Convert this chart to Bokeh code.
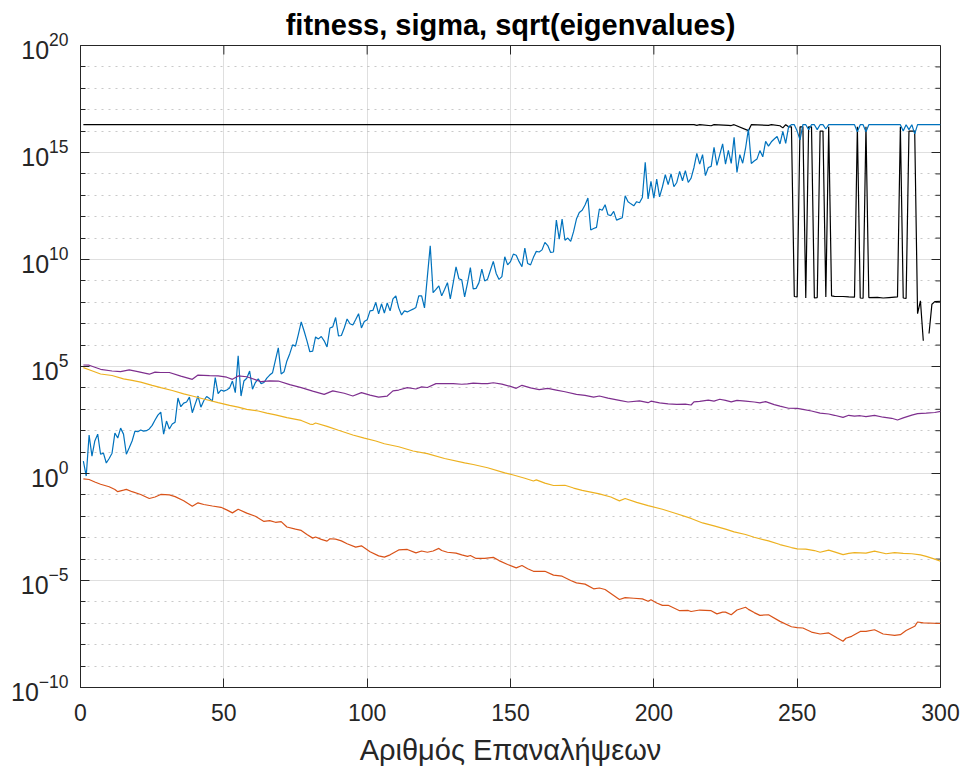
import numpy as np
from bokeh.plotting import figure
from bokeh.models import FixedTicker, LogTickFormatter, Range1d
from bokeh.embed import file_html
from bokeh.resources import INLINE

# ---- data (values stored as base-10 exponents) ----
iterations = list(range(1, 301))

fitness_exp = [
    0.58, -0.12, 1.8, 0.81, 1.52, 1.84, 0.9, 0.95, 0.49, 0.7,
    0.95, 1.89, 1.66, 2.12, 1.84, 0.9, 1.2, 1.52, 1.98, 1.95,
    2.03, 1.98, 2.0, 2.08, 2.25, 2.5, 2.73, 2.87, 1.84, 2.45,
    2.08, 2.31, 2.4, 3.53, 3.12, 3.29, 3.34, 3.57, 2.84, 3.24,
    3.62, 3.1, 3.4, 3.6, 3.5, 3.39, 4.48, 3.73, 3.9, 3.85,
    3.9, 4.0, 4.32, 3.78, 5.5, 3.62, 4.32, 4.45, 4.79, 3.94,
    4.25, 4.42, 4.2, 4.25, 4.46, 4.6, 4.71, 5.3, 5.87, 4.65,
    4.75, 5.26, 5.6, 6.01, 5.95, 6.5, 7.08, 6.66, 6.2, 5.69,
    5.72, 6.38, 6.29, 6.4, 6.2, 5.91, 6.8, 6.85, 7.29, 6.43,
    6.45, 6.8, 7.22, 7.0, 6.94, 7.2, 7.47, 6.8, 7.1, 7.18,
    7.6, 7.62, 7.99, 7.46, 7.93, 7.5, 7.97, 7.6, 8.16, 8.3,
    7.74, 7.41, 7.6, 7.55, 7.62, 7.68, 7.76, 8.3, 8.3, 7.74,
    9.2, 10.64, 8.45, 8.6, 8.77, 8.3, 8.6, 8.92, 8.16, 8.9,
    9.66, 9.1, 9.05, 8.25, 8.9, 9.62, 8.63, 8.65, 8.92, 9.55,
    9.0, 9.08, 9.5, 9.91, 9.35, 9.07, 9.2, 10.13, 9.75, 9.9,
    10.25, 10.2, 9.9, 9.66, 10.53, 9.81, 9.75, 10.1, 10.38, 10.35,
    10.45, 10.8, 10.65, 10.33, 10.35, 11.84, 10.95, 11.89, 10.9, 11.0,
    10.85, 11.3, 11.89, 12.2, 12.3, 12.55, 12.87, 11.38, 11.45, 11.5,
    12.36, 12.3, 12.56, 12.09, 12.05, 12.25, 11.84, 11.9, 11.95, 12.98,
    12.7, 12.6, 12.51, 12.7, 12.65, 12.9, 14.54, 12.83, 13.65, 12.87,
    13.76, 12.93, 13.4, 13.96, 13.5, 14.0, 13.4, 13.6, 14.12, 13.68,
    14.15, 13.6, 13.8, 14.3, 14.96, 14.46, 14.9, 13.92, 14.3, 14.35,
    15.24, 14.4, 14.9, 15.4, 14.46, 15.1, 14.49, 15.71, 14.07, 14.9,
    14.5, 15.2, 16.1, 14.49, 14.6, 14.7, 15.09, 14.8, 15.52, 15.3,
    15.5, 15.63, 15.75, 15.4, 15.99, 15.43, 16.2, 16.3, 16.3, 16.0,
    15.59, 16.3, 16.3, 16.07, 16.3, 16.3, 16.07, 16.3, 16.3, 16.1,
    16.3, 16.3, 16.3, 16.3, 16.3, 16.3, 16.3, 16.3, 16.3, 16.3,
    15.97, 16.3, 16.3, 15.97, 16.3, 16.3, 16.3, 16.3, 16.3, 16.3,
    16.3, 16.3, 16.3, 16.3, 16.3, 16.3, 16.0, 16.3, 16.07, 16.3,
    15.87, 16.3, 16.3, 16.3, 16.3, 16.3, 16.3, 16.3, 16.3, 16.3,
]

spread_iter = [1, 214, 215, 216, 220, 221, 226, 227, 228, 233, 234, 240, 241,
               244, 245, 246, 247, 248, 249, 250, 251, 252, 253, 254, 255, 256,
               257, 258, 259, 260, 261, 262, 263, 266, 268, 270, 271, 272, 273,
               274, 275, 278, 280, 282, 285, 286, 287, 288, 289, 290, 291, 292,
               293, 294, 295, 296, 297, 298, 300]
spread_exp = [16.3, 16.3, 16.27, 16.3, 16.25, 16.3, 16.27, 16.26, 16.3, 16.02,
              16.3, 16.27, 16.3, 16.25, 16.15, 16.3, 16.2, 16.2, 8.27, 8.25,
              16.2, 16.2, 8.2, 16.2, 16.2, 8.2, 8.22, 16.0, 16.0, 8.25,
              16.2, 8.3, 8.28, 8.27, 8.25, 8.24, 16.2, 8.2, 8.19, 16.2,
              8.22, 8.23, 8.2, 8.22, 8.25, 16.2, 8.2, 8.18, 16.0, 16.0,
              16.0, 7.47, 8.07, 6.2, np.nan, 6.54, 7.91, 8.03, 8.05]

sigma_iter = [1, 3, 7, 11, 15, 18, 21, 25, 28, 32, 36, 39, 43, 48, 52, 55, 58,
              62, 65, 68, 72, 77, 80, 81, 82, 86, 90, 95, 99, 103, 106, 111,
              116, 121, 127, 134, 137, 142, 148, 151, 155, 158, 159, 162, 165,
              169, 172, 175, 178, 181, 185, 188, 190, 194, 198, 203, 208, 213,
              217, 221, 225, 228, 232, 235, 240, 244, 248, 250, 253, 256, 258,
              261, 263, 266, 268, 270, 274, 277, 281, 284, 287, 290, 293, 295,
              298, 300]
sigma_exp = [4.95, 4.85, 4.65, 4.58, 4.42, 4.35, 4.27, 4.12, 4.01, 3.88, 3.72,
             3.62, 3.48, 3.31, 3.18, 3.1, 3.0, 2.92, 2.82, 2.74, 2.61, 2.48,
             2.31, 2.29, 2.36, 2.2, 2.02, 1.8, 1.65, 1.52, 1.39, 1.25, 1.05,
             0.93, 0.7, 0.5, 0.42, 0.27, 0.03, -0.07, -0.22, -0.35, -0.3,
             -0.45, -0.56, -0.55, -0.68, -0.79, -0.87, -0.95, -1.1, -1.28,
             -1.17, -1.35, -1.5, -1.67, -1.88, -2.1, -2.31, -2.45, -2.6,
             -2.73, -2.85, -2.98, -3.15, -3.32, -3.46, -3.52, -3.53, -3.6,
             -3.68, -3.58, -3.66, -3.79, -3.73, -3.7, -3.72, -3.63, -3.75,
             -3.7, -3.73, -3.75, -3.8, -3.87, -4.0, -4.1]

eig_max_iter = [1, 3, 7, 11, 14, 17, 20, 24, 26, 28, 31, 35, 39, 41, 45, 48,
                51, 53, 55, 58, 63, 66, 69, 73, 77, 81, 85, 88, 92, 95, 98,
                101, 104, 107, 109, 111, 114, 117, 119, 121, 124, 127, 130,
                133, 135, 137, 140, 142, 144, 147, 150, 152, 154, 157, 160,
                163, 166, 169, 173, 176, 179, 181, 184, 188, 191, 195, 198,
                199, 202, 205, 208, 211, 213, 214, 216, 219, 221, 223, 225,
                227, 229, 232, 235, 237, 239, 242, 244, 247, 250, 252, 255,
                258, 261, 263, 266, 268, 270, 272, 274, 277, 280, 283, 285,
                287, 290, 292, 295, 298, 300]
eig_max_exp = [5.07, 5.06, 4.87, 4.79, 4.76, 4.84, 4.76, 4.64, 4.74, 4.72,
               4.72, 4.55, 4.4, 4.6, 4.57, 4.56, 4.5, 4.4, 4.56, 4.52, 4.29,
               4.33, 4.32, 4.15, 4.01, 3.85, 3.7, 3.86, 3.75, 3.62, 3.78,
               3.66, 3.57, 3.62, 3.86, 3.9, 4.01, 3.95, 4.05, 4.02, 4.2, 4.2,
               4.2, 4.17, 4.19, 4.22, 4.2, 4.2, 4.24, 4.18, 4.07, 3.98, 4.12,
               4.0, 3.92, 3.98, 3.9, 3.82, 3.7, 3.65, 3.57, 3.62, 3.52, 3.42,
               3.34, 3.39, 3.31, 3.38, 3.3, 3.25, 3.23, 3.24, 3.2, 3.35, 3.37,
               3.43, 3.38, 3.47, 3.42, 3.35, 3.42, 3.38, 3.34, 3.3, 3.36,
               3.22, 3.15, 3.05, 3.04, 3.0, 2.92, 2.82, 2.78, 2.72, 2.62,
               2.72, 2.68, 2.7, 2.66, 2.72, 2.63, 2.58, 2.5, 2.6, 2.73, 2.8,
               2.82, 2.85, 2.9]

eig_min_iter = [1, 3, 5, 7, 10, 12, 13, 15, 16, 18, 21, 24, 26, 28, 31, 33,
                36, 39, 41, 43, 46, 49, 51, 53, 55, 58, 61, 64, 66, 68, 70,
                72, 75, 77, 79, 81, 82, 84, 86, 87, 89, 91, 93, 96, 98, 101,
                104, 106, 108, 111, 114, 117, 119, 121, 123, 125, 126, 128,
                131, 133, 135, 136, 138, 141, 144, 146, 149, 152, 154, 156,
                158, 162, 165, 168, 171, 173, 176, 179, 181, 183, 186, 188,
                190, 193, 196, 198, 199, 201, 203, 205, 209, 212, 213, 216,
                220, 222, 224, 225, 227, 229, 232, 233, 235, 237, 240, 244,
                248, 250, 252, 255, 258, 261, 264, 266, 267, 269, 272, 274,
                277, 280, 284, 286, 288, 291, 292, 294, 300]
eig_min_exp = [-0.25, -0.28, -0.4, -0.5, -0.62, -0.75, -0.85, -0.78, -0.74,
               -0.85, -0.98, -1.17, -1.1, -0.98, -1.0, -1.08, -1.27, -1.53,
               -1.37, -1.45, -1.52, -1.58, -1.7, -1.84, -1.67, -1.85, -2.0,
               -2.24, -2.2, -2.28, -2.25, -2.5, -2.6, -2.66, -2.85, -3.02,
               -2.97, -3.08, -3.16, -3.05, -3.07, -3.15, -3.28, -3.44, -3.38,
               -3.66, -3.85, -3.91, -3.8, -3.57, -3.55, -3.71, -3.62, -3.68,
               -3.62, -3.5, -3.6, -3.68, -3.72, -3.8, -3.87, -3.83, -3.97,
               -3.97, -3.92, -4.07, -4.25, -4.41, -4.3, -4.45, -4.57, -4.57,
               -4.75, -4.8, -5.0, -5.11, -5.17, -5.39, -5.35, -5.42, -5.7,
               -5.89, -5.8, -5.83, -5.86, -5.97, -5.9, -6.05, -6.16, -6.16,
               -6.41, -6.4, -6.45, -6.38, -6.41, -6.56, -6.48, -6.48, -6.6,
               -6.38, -6.25, -6.35, -6.5, -6.63, -6.6, -6.91, -7.16, -7.2,
               -7.22, -7.41, -7.5, -7.45, -7.69, -7.84, -7.7, -7.61, -7.38,
               -7.38, -7.3, -7.5, -7.56, -7.53, -7.34, -7.14, -6.94, -6.98,
               -7.01]

x_ticks = [0, 50, 100, 150, 200, 250, 300]
y_major_exp = [-10, -5, 0, 5, 10, 15, 20]

X_MIN, X_MAX = 0, 300
Y_MIN, Y_MAX = 1e-10, 1e20

# ---- figure ----
AX = "#262626"
FONT = "Liberation Sans"

p = figure(width=965, height=776, output_backend="svg", toolbar_location=None,
           x_range=Range1d(X_MIN, X_MAX), y_range=Range1d(Y_MIN, Y_MAX),
           y_axis_type="log",
           min_border_left=80, min_border_right=25,
           min_border_top=45, min_border_bottom=89)

p.title.text = "fitness, sigma, sqrt(eigenvalues)"
p.title.align = "center"
p.title.text_font = FONT
p.title.text_font_size = "29px"
p.title.text_font_style = "bold"
p.title.text_color = "#000000"
p.title.standoff = 10

p.outline_line_color = AX
p.outline_line_width = 1
p.background_fill_color = "white"
p.border_fill_color = "white"

major_y = [10.0 ** e for e in y_major_exp]
minor_y = [10.0 ** e for e in range(-10, 21) if e not in y_major_exp]
y_ticker = FixedTicker(ticks=major_y, minor_ticks=minor_y)
x_ticker = FixedTicker(ticks=x_ticks, minor_ticks=[])


def style_axis(ax, size):
    ax.axis_line_color = AX
    ax.axis_line_width = 1
    ax.major_tick_line_color = AX
    ax.minor_tick_line_color = AX
    ax.major_tick_in = 9
    ax.major_tick_out = 0
    ax.minor_tick_in = 5
    ax.minor_tick_out = 0
    ax.major_label_text_font = FONT
    ax.major_label_text_color = AX
    ax.major_label_text_font_size = size


xa = p.xaxis[0]
xa.ticker = x_ticker
style_axis(xa, "23px")
xa.major_label_standoff = 16
xa.axis_label = "Αριθμός Επαναλήψεων"
xa.axis_label_text_font = FONT
xa.axis_label_text_font_size = "29px"
xa.axis_label_text_font_style = "normal"
xa.axis_label_text_color = AX
xa.axis_label_standoff = 10

ya = p.yaxis[0]
ya.ticker = y_ticker
ya.formatter = LogTickFormatter()
style_axis(ya, "25px")
ya.major_label_standoff = 12

# inward tick marks mirrored on the top and right edges of the box
p.ray(x=x_ticks, y=[Y_MAX] * len(x_ticks), length=9, angle=-np.pi / 2,
      length_units="screen", line_color=AX, line_width=1)
p.ray(x=[X_MAX] * len(major_y), y=major_y, length=9, angle=np.pi,
      length_units="screen", line_color=AX, line_width=1)
p.ray(x=[X_MAX] * len(minor_y), y=minor_y, length=5, angle=np.pi,
      length_units="screen", line_color=AX, line_width=1)

# grids
p.xgrid.ticker = x_ticker
p.xgrid.grid_line_color = AX
p.xgrid.grid_line_alpha = 0.15
p.ygrid.ticker = y_ticker
p.ygrid.grid_line_color = AX
p.ygrid.grid_line_alpha = 0.15
p.ygrid.minor_grid_line_color = AX
p.ygrid.minor_grid_line_alpha = 0.25
p.ygrid.minor_grid_line_dash = "2 5"

# ---- series ----
def pw(exps):
    return [10.0 ** e for e in exps]

LW = 1.2
p.line(spread_iter, pw(spread_exp), color="#000000", line_width=LW)
p.line(iterations, pw(fitness_exp), color="#0072BD", line_width=LW)
p.line(eig_min_iter, pw(eig_min_exp), color="#D95319", line_width=LW)
p.line(sigma_iter, pw(sigma_exp), color="#EDB120", line_width=LW)
p.line(eig_max_iter, pw(eig_max_exp), color="#7E2F8E", line_width=LW)

open("out.html", "w").write(file_html(p, INLINE))
